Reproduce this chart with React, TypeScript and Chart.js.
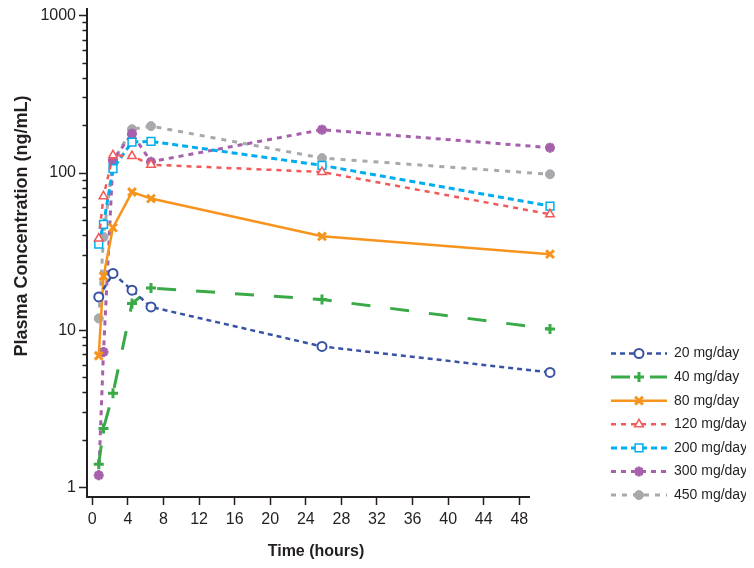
import React, { useEffect, useRef } from 'react';
import { Chart, registerables } from 'chart.js';
import { drawPoint } from 'chart.js/helpers';

Chart.register(...registerables);

// ---------- data ----------
const seriesLabels = ['20 mg/day', '40 mg/day', '80 mg/day', '120 mg/day', '200 mg/day', '300 mg/day', '450 mg/day'];

const times20 = [0.5, 2, 4, 6, 24, 48];
const conc20 = [16.3, 23.0, 18.0, 14.1, 7.9, 5.4];

const times40 = [0.5, 1, 2, 4, 6, 24, 48];
const conc40 = [1.41, 2.38, 3.98, 14.8, 18.6, 15.7, 10.2];

const times80 = [0.5, 1, 2, 4, 6, 24, 48];
const conc80 = [6.9, 22.1, 45.0, 75.7, 68.8, 39.6, 30.5];

const times120 = [0.5, 1, 2, 4, 6, 24, 48];
const conc120 = [38.3, 71.1, 129.5, 128.2, 113, 101.5, 54.7];

const times200 = [0.5, 1, 2, 4, 6, 24, 48];
const conc200 = [35.3, 47.2, 106.6, 157.4, 158.9, 111.9, 61.7];

const times300 = [0.5, 1, 2, 4, 6, 24, 48];
const conc300 = [1.2, 7.3, 120.5, 178, 118, 188.6, 145];

const times450 = [0.5, 1, 2, 4, 6, 24, 48];
const conc450 = [11.9, 39.2, 118, 190, 198.7, 124.5, 98.2];

const xTickValues = [0, 4, 8, 12, 16, 20, 24, 28, 32, 36, 40, 44, 48];
const yMajorTicks = [1, 10, 100, 1000];
const yMinorTicks = [2, 3, 4, 5, 6, 7, 8, 9, 20, 30, 40, 50, 60, 70, 80, 90, 200, 300, 400, 500, 600, 700, 800, 900];

// ---------- styles ----------
const FONT = '"Liberation Sans", Arial, Helvetica, sans-serif';
const INK = '#231f20';

const seriesStyles = [
  { color: '#3953a4', dash: [5, 4], width: 2.5, point: 'circle', radius: 4.5, fill: '#ffffff', pbw: 2 },
  { color: '#3aaa48', dash: [19, 20], width: 3, point: 'cross', radius: 5, fill: '#3aaa48', pbw: 3 },
  { color: '#f7941d', dash: [], width: 2.5, point: 'crossRot', radius: 5.5, fill: '#f7941d', pbw: 3 },
  { color: '#f15a5a', dash: [5, 5], width: 2.5, point: 'triangle', radius: 5, fill: '#ffffff', pbw: 1.5 },
  { color: '#00aeef', dash: [6, 4], width: 3, point: 'rect', radius: 5.5, fill: '#ffffff', pbw: 1.5 },
  { color: '#a660ac', dash: [5, 5], width: 3, point: 'star', radius: 5, fill: '#a660ac', pbw: 3 },
  { color: '#a7a9ac', dash: [5, 6], width: 3, point: 'circle', radius: 4.5, fill: '#a7a9ac', pbw: 1 },
];

const seriesData = [
  [times20, conc20],
  [times40, conc40],
  [times80, conc80],
  [times120, conc120],
  [times200, conc200],
  [times300, conc300],
  [times450, conc450],
];

// ---------- geometry ----------
const W = 754;
const H = 568;
const AREA_LEFT = 87;
const AREA_RIGHT = 560;
const AXIS_LINE_END = 530;
const AREA_TOP = 8;
const AREA_BOTTOM = 497;

// data axis mapping (pixel = 94 + 9.5 * t)
const X_MIN = (AREA_LEFT - 94) / 9.5;
const X_MAX = (AREA_RIGHT - 94) / 9.5;
// tick axis mapping (pixel = 92.3 + 8.896 * t)
const XT_MIN = (AREA_LEFT - 92.3) / 8.896;
const XT_MAX = (AREA_RIGHT - 92.3) / 8.896;
// log axis: pixel = 487.7 - 157.5 * log10(v)
const Y_MIN = Math.pow(10, (487.7 - AREA_BOTTOM) / 157.5);
const Y_MAX = Math.pow(10, (487.7 - AREA_TOP) / 157.5);

const Y_LABEL_W = 35.6;
const Y_TITLE_X = 22.5;
const Y_TITLE_Y = 226;
const X_TITLE_X = 316;
const X_TITLE_Y = 551.5;
const X_AXIS_H = 8 + 5 * 2 + 19.2;

const LEGEND_LINE_X0 = 611;
const LEGEND_LINE_X1 = 667;
const LEGEND_MARK_X = 639;
const LEGEND_TEXT_X = 674;
const LEGEND_TOP = 353.5;
const LEGEND_STEP = 23.6;

const decorPlugin = {
  id: 'decor',
  afterDraw(chart: any) {
    const ctx = chart.ctx;
    const area = chart.chartArea;
    ctx.save();
    // x axis line (ends shortly after the last tick)
    ctx.strokeStyle = INK;
    ctx.lineWidth = 2;
    ctx.beginPath();
    ctx.moveTo(area.left - 1, area.bottom);
    ctx.lineTo(AXIS_LINE_END, area.bottom);
    ctx.stroke();
    // x axis title
    ctx.fillStyle = INK;
    ctx.font = 'bold 16px ' + FONT;
    ctx.textAlign = 'center';
    ctx.textBaseline = 'middle';
    ctx.fillText('Time (hours)', X_TITLE_X, X_TITLE_Y);
    // y axis title
    ctx.translate(Y_TITLE_X, Y_TITLE_Y);
    ctx.rotate(-Math.PI / 2);
    ctx.font = 'bold 18px ' + FONT;
    ctx.fillText('Plasma Concentration (ng/mL)', 0, 0);
    ctx.restore();

    // legend
    chart.data.datasets.forEach((ds: any, i: number) => {
      const y = LEGEND_TOP + i * LEGEND_STEP;
      ctx.save();
      ctx.strokeStyle = ds.borderColor;
      ctx.lineWidth = ds.borderWidth;
      ctx.setLineDash(ds.borderDash || []);
      ctx.beginPath();
      ctx.moveTo(LEGEND_LINE_X0, y);
      ctx.lineTo(LEGEND_LINE_X1, y);
      ctx.stroke();
      ctx.setLineDash([]);
      ctx.fillStyle = ds.pointBackgroundColor;
      ctx.strokeStyle = ds.pointBorderColor;
      ctx.lineWidth = ds.pointBorderWidth;
      drawPoint(ctx, { pointStyle: ds.pointStyle, radius: ds.pointRadius, borderWidth: ds.pointBorderWidth, rotation: 0 }, LEGEND_MARK_X, y);
      ctx.fillStyle = INK;
      ctx.font = '14px ' + FONT;
      ctx.textBaseline = 'middle';
      ctx.textAlign = 'left';
      ctx.fillText(ds.label, LEGEND_TEXT_X, y);
      ctx.restore();
    });
  },
};

export default function App() {
  const ref = useRef<HTMLCanvasElement | null>(null);

  useEffect(() => {
    if (!ref.current) return;
    const datasets = seriesData.map(([ts, vs], i) => {
      const s = seriesStyles[i];
      return {
        label: seriesLabels[i],
        data: ts.map((t, j) => ({ x: t, y: vs[j] })),
        xAxisID: 'x',
        yAxisID: 'y',
        borderColor: s.color,
        backgroundColor: s.color,
        borderWidth: s.width,
        borderDash: s.dash,
        pointStyle: s.point,
        pointRadius: s.radius,
        pointHoverRadius: s.radius,
        pointBorderWidth: s.pbw,
        pointBackgroundColor: s.fill,
        pointBorderColor: s.color,
        tension: 0,
        clip: false as any,
      };
    });

    const allY = [...yMajorTicks, ...yMinorTicks].sort((a, b) => a - b);
    const yAxisWidth = 8 + 3 * 2 + Y_LABEL_W;

    const chart = new Chart(ref.current, {
      type: 'line',
      data: { datasets },
      options: {
        responsive: false,
        animation: false,
        events: [],
        layout: {
          padding: { top: AREA_TOP, left: AREA_LEFT - yAxisWidth, bottom: H - AREA_BOTTOM - X_AXIS_H, right: W - AREA_RIGHT },
        },
        plugins: { legend: { display: false }, tooltip: { enabled: false } },
        scales: {
          x: { type: 'linear', display: false, min: X_MIN, max: X_MAX },
          xt: {
            type: 'linear',
            position: 'bottom',
            min: XT_MIN,
            max: XT_MAX,
            afterBuildTicks: (s: any) => {
              s.ticks = xTickValues.map((v) => ({ value: v }));
            },
            ticks: {
              autoSkip: false,
              maxRotation: 0,
              padding: 5,
              color: INK,
              font: { size: 16, family: FONT },
              callback: (v: any) => String(v),
            },
            grid: { drawOnChartArea: false, drawTicks: true, tickLength: 8, tickWidth: 1.5, tickColor: INK },
            border: { display: false },
            title: { display: false },
          },
          y: {
            type: 'logarithmic',
            position: 'left',
            min: Y_MIN,
            max: Y_MAX,
            afterBuildTicks: (s: any) => {
              s.ticks = allY.map((v) => ({ value: v, major: yMajorTicks.includes(v) }));
            },
            ticks: {
              autoSkip: false,
              padding: 3,
              color: INK,
              font: { size: 16, family: FONT, lineHeight: 0.5 },
              callback: (v: any) => (yMajorTicks.includes(v) ? String(v) : ''),
            },
            grid: {
              drawOnChartArea: false,
              drawTicks: true,
              tickLength: 8,
              tickWidth: 1.5,
              tickColor: INK,
              tickBorderDash: (c: any) => (c.tick && yMajorTicks.includes(c.tick.value) ? [] : [0, 3.5, 4.5, 100]),
            },
            border: { display: true, color: INK, width: 2 },
            title: { display: false },
          },
        } as any,
      },
      plugins: [decorPlugin],
    });
    return () => chart.destroy();
  }, []);

  return (
    <div style={{ margin: '-8px 0 -8px -8px', width: W, height: H }}>
      <canvas ref={ref} width={W} height={H} style={{ display: 'block', width: W, height: H }} />
    </div>
  );
}
